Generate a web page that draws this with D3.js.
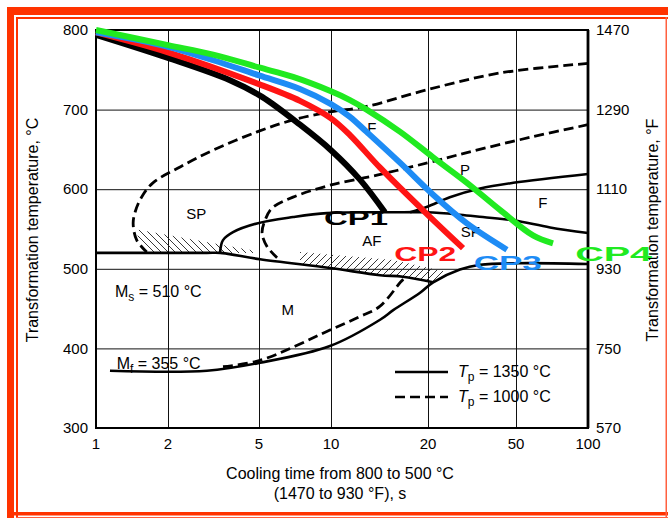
<!DOCTYPE html>
<html lang="en">
<head>
<meta charset="UTF-8">
<title>CCT diagram</title>
<script src="https://d3js.org/d3.v7.min.js"></script>
<style>
    body { margin: 0; background: #fff; }
    svg { display: block; font-family: "Liberation Sans", Arial, sans-serif; }
    .tick-label { font-size: 15px; fill: #000; }
    .title { font-size: 16px; fill: #000; }
    .region { font-size: 15px; fill: #000; }
</style>
</head>
<body>
<svg width="668" height="518"></svg>
<script>
    // axis ticks
    var xTicks = [1, 2, 5, 10, 20, 50, 100];
    var yTicksC = [300, 400, 500, 600, 700, 800];
    var yTicksF = [570, 750, 930, 1110, 1290, 1470];

    // cooling paths: [time s, temperature C]
    var cp1 = [[1, 794], [2, 765], [3.73, 737], [5.15, 716], [7.42, 681], [10, 649], [12.3, 612], [14.7, 571]];
    var cp2 = [[1, 797], [2, 772], [5, 732], [7.42, 711], [10, 689], [11.45, 668], [14.2, 627], [19.6, 571], [28.8, 526]];
    var cp3 = [[1, 797], [2, 779], [3.15, 762], [5, 743], [7.42, 726], [10, 707], [11.45, 691], [12.9, 672], [16.4, 633], [21.1, 593], [30, 557], [45.5, 524]];
    var cp4 = [[1, 800], [2, 781], [3.15, 769], [5, 753], [6.94, 741], [10, 723], [11.45, 712], [12.9, 700], [16.4, 672], [21.1, 640], [30, 608], [42.3, 574], [58.9, 542], [71.4, 532]];

    // transformation curves, Tp = 1350 C (solid)
    var msLine = [[1, 520], [2.96, 520], [3.38, 520], [5.05, 512], [9.9, 501], [14.2, 492], [16.7, 490], [21.1, 483]];
    var mfLine = [[1.144, 372], [2.96, 372], [5.05, 382], [9.9, 403], [14.2, 436], [15.6, 448], [18.9, 470], [21.1, 483], [27.9, 499], [34.4, 505], [50.5, 507], [100, 506]];
    var afLine = [[3.38, 521], [3.48, 536], [3.85, 546], [4.9, 557], [6.94, 565], [9.62, 570], [15.6, 571], [19.9, 571], [27.9, 568], [35.4, 565], [48.6, 561], [69.4, 552], [100, 545]];
    var pLine = [[17.6, 571], [19.9, 578], [25.1, 590], [34.4, 601], [48.6, 608], [100, 619]];

    // transformation curves, Tp = 1000 C (dashed)
    var d1Line = [[100, 758], [42.3, 746], [19.9, 725], [12.9, 704], [9.9, 697], [6.94, 687], [4.9, 672], [3.15, 649], [2.26, 628], [1.73, 608], [1.55, 590], [1.46, 572], [1.43, 557], [1.48, 536], [1.63, 521]];
    var d2Line = [[100, 681], [58.9, 666], [30, 646], [19.9, 633], [14, 618], [9.9, 605], [6.94, 590], [5.66, 576], [5.3, 561], [5.15, 545], [5.4, 528], [5.95, 514]];
    var mfDash = [[3.48, 377], [5.05, 385], [9.9, 423], [12.3, 440], [14.2, 453], [16.7, 486], [17.2, 489]];

    // hatched areas
    var hatch1 = [[1.51, 549], [4.9, 522], [4.9, 520], [1.63, 520], [1.48, 536]];
    var hatch2 = [[7.42, 521], [15.6, 511], [24.4, 496], [24.4, 491], [21.1, 483], [16.7, 490], [14.2, 492], [9.9, 501], [7.42, 506]];

    // phase labels [text, time, temperature]
    var regions = [["SP", 2.66, 569], ["AF", 13.4, 535], ["SF", 31.1, 546], ["F", 64.8, 583], ["P", 29.4, 624], ["F", 13.4, 677], ["M", 6.6, 449]];

    var svg = d3.select("svg");
    var W = 668, H = 518;

    // orange frame
    var orange = "#ff3300";
    svg.append("rect").attr("x", 7).attr("y", 7).attr("width", W).attr("height", 8).attr("fill", orange);
    svg.append("rect").attr("x", 7).attr("y", 7).attr("width", 7).attr("height", H).attr("fill", orange);
    svg.append("rect").attr("x", 16).attr("y", 17).attr("width", W).attr("height", 2).attr("fill", orange);
    svg.append("rect").attr("x", 16).attr("y", 17).attr("width", 2).attr("height", H).attr("fill", orange);
    svg.append("rect").attr("x", 7).attr("y", 512).attr("width", W).attr("height", 3.5).attr("fill", orange);
    svg.append("rect").attr("x", 16).attr("y", 517).attr("width", W).attr("height", 1.5).attr("fill", "#ff6040");
    svg.append("rect").attr("x", 665.5).attr("y", 17).attr("width", 1.5).attr("height", H).attr("fill", "#ff6040");

    var pLeft = 96, pRight = 588, pTop = 30, pBottom = 428;

    // gridlines of the source are not evenly spaced, so each decade part gets its own span
    var x = d3.scaleLog().domain(xTicks).range([96, 168, 259, 331, 428, 516, 588]);
    var y = d3.scaleLinear().domain([300, 800]).range([pBottom, pTop]);
    var yF = d3.scaleLinear().domain([570, 1470]).range([pBottom, pTop]);

    // grid
    svg.append("g")
        .attr("transform", "translate(0," + pBottom + ")")
        .call(d3.axisBottom(x).tickValues(xTicks).tickSize(-(pBottom - pTop)).tickFormat(""))
        .call(g => g.select(".domain").remove())
        .call(g => g.selectAll("line").attr("stroke", "#111").attr("stroke-width", 1));
    svg.append("g")
        .attr("transform", "translate(" + pLeft + ",0)")
        .call(d3.axisLeft(y).tickValues(yTicksC).tickSize(-(pRight - pLeft)).tickFormat(""))
        .call(g => g.select(".domain").remove())
        .call(g => g.selectAll("line").attr("stroke", "#111").attr("stroke-width", 1));

    // frame
    svg.append("rect")
        .attr("x", pLeft).attr("y", pTop)
        .attr("width", pRight - pLeft).attr("height", pBottom - pTop)
        .attr("fill", "none").attr("stroke", "#000").attr("stroke-width", 2);
    svg.append("line").attr("x1", pRight).attr("x2", pRight).attr("y1", pTop).attr("y2", pBottom)
        .attr("stroke", "#000").attr("stroke-width", 2.8);

    // tick labels
    svg.append("g").selectAll("text").data(yTicksC).join("text")
        .attr("class", "tick-label")
        .attr("x", pLeft - 8).attr("y", d => y(d)).attr("dy", "0.35em")
        .attr("text-anchor", "end").text(d => d);
    svg.append("g").selectAll("text").data(yTicksF).join("text")
        .attr("class", "tick-label")
        .attr("x", pRight + 8).attr("y", d => yF(d)).attr("dy", "0.35em")
        .attr("text-anchor", "start").text(d => d);
    svg.append("g").selectAll("text").data(xTicks).join("text")
        .attr("class", "tick-label")
        .attr("x", d => x(d)).attr("y", pBottom + 16).attr("dy", "0.35em")
        .attr("text-anchor", "middle").text(d => d);

    // axis titles
    svg.append("text").attr("class", "title")
        .attr("transform", "translate(38,230) rotate(-90)")
        .attr("text-anchor", "middle").text("Transformation temperature, °C");
    svg.append("text").attr("class", "title")
        .attr("transform", "translate(658,230) rotate(-90)")
        .attr("text-anchor", "middle").text("Transformation temperature, °F");
    svg.append("text").attr("class", "title")
        .attr("x", 340).attr("y", 479).attr("text-anchor", "middle")
        .text("Cooling time from 800 to 500 °C");
    svg.append("text").attr("class", "title")
        .attr("x", 340).attr("y", 499).attr("text-anchor", "middle")
        .text("(1470 to 930 °F), s");

    // hatch patterns
    var defs = svg.append("defs");
    defs.append("pattern").attr("id", "hatchBack")
        .attr("patternUnits", "userSpaceOnUse").attr("width", 7).attr("height", 7)
        .append("path").attr("d", "M0,0L7,7M-1,6L1,8M6,-1L8,1")
        .attr("stroke", "#222").attr("stroke-width", 0.9);
    defs.append("pattern").attr("id", "hatchFwd")
        .attr("patternUnits", "userSpaceOnUse").attr("width", 7).attr("height", 7)
        .append("path").attr("d", "M0,7L7,0M-1,1L1,-1M6,8L8,6")
        .attr("stroke", "#222").attr("stroke-width", 0.9);

    var area = d3.line().x(d => x(d[0])).y(d => y(d[1]));
    svg.append("path").attr("d", area(hatch1) + "Z").attr("fill", "url(#hatchBack)");
    svg.append("path").attr("d", area(hatch2) + "Z").attr("fill", "url(#hatchFwd)");

    var curve = d3.line()
        .x(d => x(d[0])).y(d => y(d[1]))
        .curve(d3.curveCatmullRom.alpha(0.5));

    [msLine, mfLine, afLine, pLine].forEach(function(c) {
        svg.append("path").attr("d", curve(c))
            .attr("fill", "none").attr("stroke", "#000").attr("stroke-width", 2.6);
    });
    [d1Line, d2Line, mfDash].forEach(function(c) {
        svg.append("path").attr("d", curve(c))
            .attr("fill", "none").attr("stroke", "#000").attr("stroke-width", 2.8)
            .attr("stroke-dasharray", "10,5");
    });

    // phase labels
    svg.append("g").selectAll("text").data(regions).join("text")
        .attr("class", "region")
        .attr("x", d => x(d[1])).attr("y", d => y(d[2])).attr("dy", "0.35em")
        .attr("text-anchor", "middle").text(d => d[0]);

    function subLabel(px, py, main, sub, rest, italic) {
        var t = svg.append("text").attr("x", px).attr("y", py).attr("font-size", 16);
        t.append("tspan").attr("font-style", italic ? "italic" : "normal").text(main);
        t.append("tspan").attr("font-size", 12).attr("dy", 4).text(sub);
        t.append("tspan").attr("dy", -4).text(rest);
    }
    subLabel(x(1.2), y(465), "M", "s", " = 510 °C", false);
    subLabel(x(1.22), y(374), "M", "f", " = 355 °C", false);

    // cooling paths
    var paths = [
        { data: cp1, color: "#000000", name: "CP1", at: [11.96, 564], len: 64 },
        { data: cp2, color: "#ff1414", name: "CP2", at: [19.6, 519], len: 62 },
        { data: cp3, color: "#1e8cf5", name: "CP3", at: [45.9, 508], len: 68 },
        { data: cp4, color: "#20ea20", name: "CP4", at: [128, 519], len: 77 }
    ];
    paths.forEach(function(p) {
        svg.append("path").attr("d", curve(p.data))
            .attr("fill", "none").attr("stroke", p.color).attr("stroke-width", 6)
            .attr("stroke-linecap", "butt");
    });
    paths.forEach(function(p) {
        svg.append("text")
            .attr("x", x(p.at[0])).attr("y", y(p.at[1])).attr("dy", "0.36em")
            .attr("text-anchor", "middle")
            .attr("font-size", 21).attr("font-weight", "bold")
            .attr("textLength", p.len).attr("lengthAdjust", "spacingAndGlyphs")
            .attr("fill", p.color).text(p.name);
    });

    // legend
    var legend = svg.append("g");
    legend.append("line").attr("x1", 395).attr("x2", 448).attr("y1", 372).attr("y2", 372)
        .attr("stroke", "#000").attr("stroke-width", 2.6);
    legend.append("line").attr("x1", 395).attr("x2", 448).attr("y1", 397).attr("y2", 397)
        .attr("stroke", "#000").attr("stroke-width", 2.6).attr("stroke-dasharray", "10,5");
    subLabel(458, 377, "T", "p", " = 1350 °C", true);
    subLabel(458, 402, "T", "p", " = 1000 °C", true);
</script>
</body>
</html>
